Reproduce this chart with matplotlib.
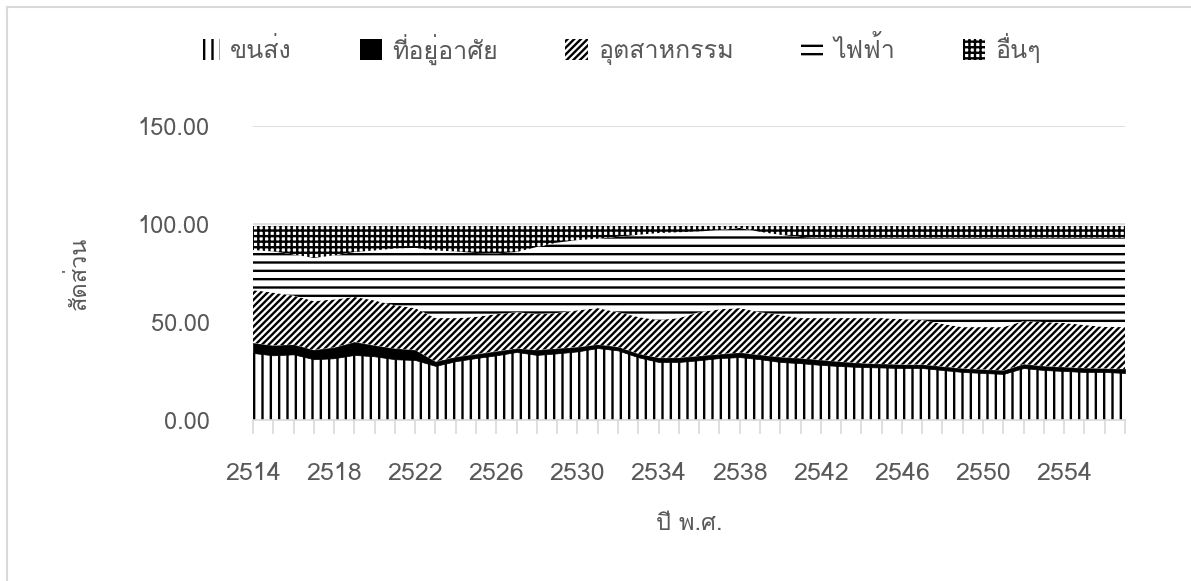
import matplotlib
matplotlib.use('Agg')
import matplotlib.pyplot as plt
from matplotlib import font_manager, ft2font
from matplotlib.patches import Patch
from matplotlib.lines import Line2D
from matplotlib.ticker import FuncFormatter, FixedLocator

# สัดส่วนการใช้พลังงานแยกตามภาค (ปี พ.ศ. 2514-2557)
years = list(range(2514, 2558))
transport = [34.2, 33.0, 33.5, 31.0, 31.5, 33.2, 32.5, 31.0, 30.6, 27.6,
             30.0, 31.6, 33.0, 34.7, 33.2, 34.0, 35.0, 36.7, 35.5, 32.0,
             29.6, 29.6, 30.5, 31.6, 32.1, 31.0, 29.6, 29.0, 28.1, 27.5,
             27.0, 26.8, 26.5, 26.5, 25.5, 24.5, 24.0, 23.5, 26.5, 25.5,
             25.0, 24.5, 24.5, 24.0]
residential = [5.1, 5.0, 5.0, 4.7, 5.5, 6.6, 5.5, 5.5, 5.1, 2.2,
               2.2, 2.0, 2.0, 1.8, 2.5, 2.5, 2.2, 1.8, 1.8, 1.8,
               2.2, 2.2, 2.2, 2.0, 2.3, 2.2, 2.5, 2.5, 2.5, 2.2,
               2.0, 1.8, 1.8, 1.8, 1.8, 1.8, 1.8, 1.8, 2.0, 2.0,
               2.0, 2.0, 1.8, 2.0]
industry = [27.0, 27.0, 25.0, 25.0, 24.5, 23.0, 23.0, 22.0, 21.4, 22.2,
            19.8, 19.0, 19.0, 18.5, 18.3, 18.1, 18.8, 18.6, 17.7, 18.8,
            19.2, 20.2, 22.3, 22.9, 22.7, 21.8, 21.5, 20.5, 21.4, 22.3,
            23.0, 23.4, 23.2, 22.7, 21.7, 21.1, 21.6, 22.1, 22.0, 22.5,
            22.5, 22.0, 21.2, 21.4]
electricity = [20.4, 21.0, 21.0, 22.0, 22.5, 22.9, 25.5, 29.0, 30.7, 34.5,
               34.0, 32.6, 31.0, 30.7, 34.3, 35.9, 35.8, 35.4, 38.5, 41.9,
               44.4, 43.8, 41.2, 40.4, 40.9, 41.0, 40.9, 41.4, 41.0, 41.0,
               41.0, 41.0, 41.5, 42.0, 44.0, 45.6, 45.6, 45.6, 42.5, 43.0,
               43.5, 44.5, 45.5, 45.6]
others = [12.3, 13.0, 14.5, 16.3, 15.0, 13.3, 12.5, 11.5, 11.2, 12.5,
          13.0, 13.8, 14.0, 13.3, 10.7, 8.5, 7.2, 6.5, 5.5, 4.5,
          3.6, 3.2, 2.8, 2.1, 1.0, 3.0, 4.5, 5.6, 6.0, 6.0,
          6.0, 6.0, 6.0, 6.0, 6.0, 6.0, 6.0, 6.0, 6.0, 6.0,
          6.0, 6.0, 6.0, 6.0]
series = [transport, residential, industry, electricity, others]
names = ['ขนส่ง', 'ที่อยู่อาศัย', 'อุตสาหกรรม', 'ไฟฟ้า', 'อื่นๆ']
hatches = ['||', None, '/////', '--', '+++']
year_ticks = list(range(2514, 2558, 4))


def thai_font():
    for f in font_manager.fontManager.ttflist:
        try:
            if 0x0E01 in ft2font.FT2Font(f.fname).get_charmap():
                return f.name
        except Exception:
            pass
    return 'DejaVu Sans'


font = thai_font()
plt.rcParams['font.family'] = [font, 'DejaVu Sans']
plt.rcParams['hatch.linewidth'] = 1.7
grey = '#595959'

fig = plt.figure(figsize=(11.91, 5.81), dpi=100)
ax = fig.add_axes([0.2124, 0.2771, 0.7322, 0.5060])

base = [0.0] * len(years)
for vals, hatch in zip(series, hatches):
    top = [b + v for b, v in zip(base, vals)]
    if hatch is None:
        ax.fill_between(years, base, top, facecolor='black', edgecolor='black', linewidth=0.5, zorder=2)
    else:
        ax.fill_between(years, base, top, facecolor='white', edgecolor='black', hatch=hatch, linewidth=0, zorder=2)
    base = top

ax.set_xlim(years[0], years[-1])
ax.set_ylim(0, 150)
ax.yaxis.set_major_locator(FixedLocator([0, 50, 100, 150]))
ax.yaxis.set_major_formatter(FuncFormatter(lambda v, p: f'{v:.2f}'))
ax.xaxis.set_major_locator(FixedLocator(year_ticks))
ax.xaxis.set_minor_locator(FixedLocator(years))
ax.grid(axis='y', color='#d9d9d9', linewidth=1.2, zorder=0)
for s in ['top', 'right', 'left']:
    ax.spines[s].set_visible(False)
ax.spines['bottom'].set_color('#d9d9d9')
ax.spines['bottom'].set_linewidth(1.2)
ax.tick_params(axis='y', length=0, pad=31, labelsize=17, labelcolor=grey)
ax.tick_params(axis='x', which='both', length=10, width=1.2, color='#d9d9d9',
               direction='out', labelsize=18, labelcolor=grey)
ax.tick_params(axis='x', which='major', pad=20)
ax.set_ylabel('สัดส่วน', fontsize=17, color=grey, labelpad=34)
ax.set_xlabel('ปี พ.ศ.', fontsize=17, color=grey, labelpad=20)

handles = [Patch(facecolor='black' if h is None else 'white', edgecolor='black',
                 hatch=h, linewidth=0) for h in hatches]
fig.legend(handles, names, loc='center', bbox_to_anchor=(0.52, 0.915), ncol=5,
           frameon=False, fontsize=18, labelcolor=grey, handlelength=0.9,
           handleheight=0.9, handletextpad=0.4, columnspacing=2.7)

# เส้นกรอบพื้นที่แผนภูมิ
fig.add_artist(Line2D([7 / 1191, 7 / 1191], [0, 1 - 7 / 581], color='#d9d9d9', linewidth=1.5))
fig.add_artist(Line2D([7 / 1191, 1], [1 - 7 / 581, 1 - 7 / 581], color='#d9d9d9', linewidth=1.5))

fig.savefig('out.png', dpi=100)
